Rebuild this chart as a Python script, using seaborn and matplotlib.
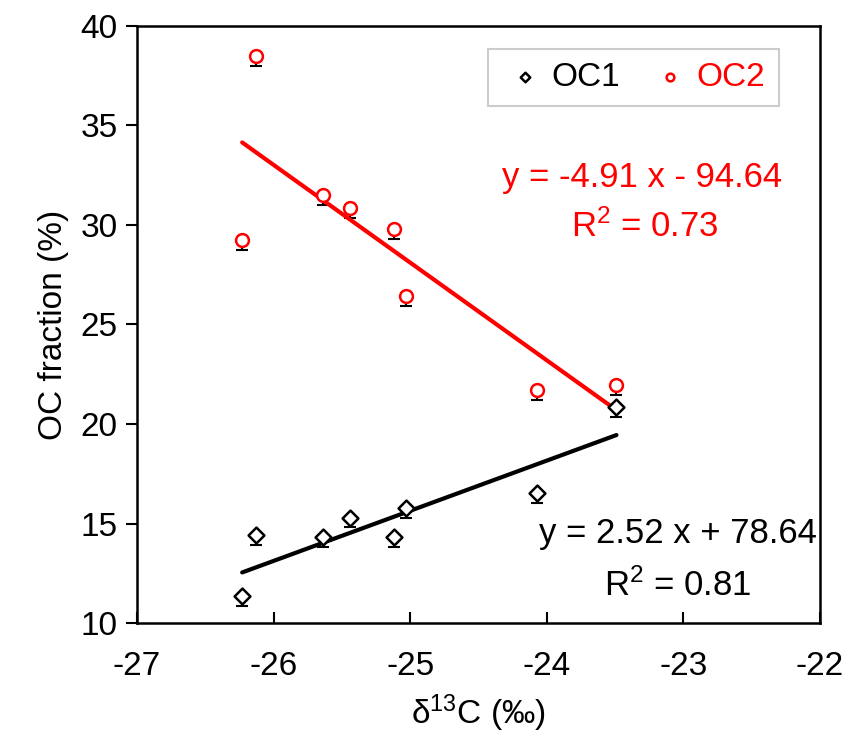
import numpy as np
import pandas as pd
import seaborn as sns
import matplotlib.pyplot as plt

# values
d13c = [-26.23, -26.13, -25.64, -25.44, -25.12, -25.03, -24.07, -23.49]
oc1 = [11.35, 14.4, 14.3, 15.3, 14.3, 15.8, 16.55, 20.85]
oc2 = [29.25, 38.5, 31.5, 30.85, 29.8, 26.45, 21.7, 21.95]
oc1_err = [0.5] * 8
oc2_err = [0.5] * 8

# regression coefficients printed on the chart
fit1 = (2.52, 78.64, 0.81)
fit2 = (-4.91, -94.64, 0.73)

sns.set_style("white")
plt.rcParams['font.family'] = ['Liberation Sans', 'DejaVu Sans']
plt.rcParams['mathtext.fontset'] = 'custom'
plt.rcParams['mathtext.rm'] = 'Liberation Sans'
plt.rcParams['mathtext.default'] = 'regular'
plt.rcParams['axes.unicode_minus'] = False

df = pd.DataFrame({'x': d13c, 'OC1': oc1, 'OC2': oc2})

fig = plt.figure(figsize=(8.49, 7.43), dpi=100)
ax = fig.add_axes([137 / 849, 1 - 623 / 743, 683 / 849, 597 / 743])

# small error bars below the markers
ax.errorbar(df['x'], df['OC1'], yerr=[oc1_err, [0] * 8], fmt='none',
            ecolor='black', elinewidth=1.5, capsize=4, capthick=1.5, zorder=2)
ax.errorbar(df['x'], df['OC2'], yerr=[oc2_err, [0] * 8], fmt='none',
            ecolor='black', elinewidth=1.5, capsize=4, capthick=1.5, zorder=2)

# regression lines over the data range
xfit = np.array([min(d13c), max(d13c)])
line1 = pd.DataFrame({'x': xfit, 'y': fit1[0] * xfit + fit1[1]})
line2 = pd.DataFrame({'x': xfit, 'y': fit2[0] * xfit + fit2[1]})
sns.lineplot(data=line2, x='x', y='y', color='#ff0000', lw=3, ax=ax, zorder=3)
sns.lineplot(data=line1, x='x', y='y', color='black', lw=3, ax=ax, zorder=3)

sns.scatterplot(data=df, x='x', y='OC1', marker='D', s=65, facecolor='white',
                edgecolor='black', linewidth=1.8, ax=ax, zorder=4, label='OC1')
sns.scatterplot(data=df, x='x', y='OC2', marker='o', s=85, facecolor='white',
                edgecolor='#ff0000', linewidth=1.8, ax=ax, zorder=4, label='OC2')

ax.set_xlim(-27, -22)
ax.set_ylim(10, 40)
ax.set_xticks(range(-27, -21))
ax.set_yticks(range(10, 41, 5))
ax.tick_params(axis='x', direction='in', length=8, width=1.5, labelsize=24, pad=20, colors='black')
ax.tick_params(axis='y', direction='out', length=8, width=1.5, labelsize=24, pad=6, colors='black')
ax.tick_params(left=True, bottom=True)
for s in ax.spines.values():
    s.set_visible(True)
    s.set_color('black')
    s.set_linewidth(1.8)

ax.set_xlabel(r'δ$^{13}$C (‰)', fontsize=24, labelpad=8, color='black')
ax.set_ylabel('OC fraction (%)', fontsize=24, labelpad=8, color='black')

ax.text(-23.30, 32.4, 'y = %.2f x - %.2f' % (fit2[0], -fit2[1]), color='#ff0000',
        fontsize=25, ha='center', va='center')
ax.text(-23.28, 29.9, r'R$^2$ = %.2f' % fit2[2], color='#ff0000',
        fontsize=25, ha='center', va='center')
ax.text(-23.04, 14.5, 'y = %.2f x + %.2f' % (fit1[0], fit1[1]), color='black',
        fontsize=25, ha='center', va='center')
ax.text(-23.04, 11.9, r'R$^2$ = %.2f' % fit1[2], color='black',
        fontsize=25, ha='center', va='center')

leg = ax.legend(loc='upper left', bbox_to_anchor=(0.514, 0.962), ncol=2,
                fontsize=24, frameon=True, fancybox=False, edgecolor='#c0c0c0',
                handletextpad=0.1, columnspacing=0.8, borderpad=0.4,
                handlelength=1.4, markerscale=0.6, labelcolor=['black', '#ff0000'],
                borderaxespad=0)
leg.get_frame().set_linewidth(1.5)

fig.savefig('out.png', dpi=100)
